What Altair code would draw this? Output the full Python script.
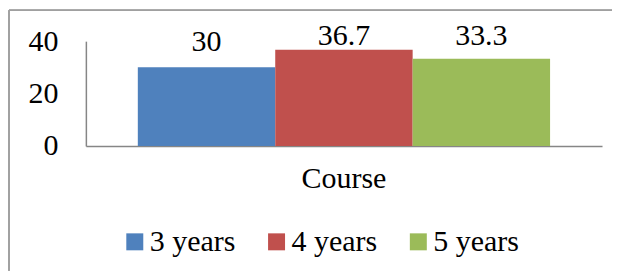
import altair as alt
import pandas as pd

category = ["Course", "Course", "Course"]
series = ["3 years", "4 years", "5 years"]
values = [30, 36.7, 33.3]
colors = ["#4F81BD", "#C0504D", "#9BBB59"]
y_ticks = [0, 20, 40]

df = pd.DataFrame({"category": category, "series": series, "value": values})

FONT = "Liberation Serif"
FS = 30

base = alt.Chart(df).encode(
    x=alt.X("category:N", title=None,
            scale=alt.Scale(paddingInner=0, paddingOuter=0.126),
            axis=alt.Axis(labelAngle=0, ticks=False, labelPadding=18,
                          domainColor="#868686", domainWidth=1.5,
                          labelFont=FONT, labelFontSize=FS, labelColor="black")),
    xOffset=alt.XOffset("series:N", scale=alt.Scale(paddingInner=0, paddingOuter=0)),
)

bars = base.mark_bar().encode(
    y=alt.Y("value:Q", title=None,
            scale=alt.Scale(domain=[0, 40]),
            axis=alt.Axis(values=y_ticks, ticks=False, grid=False, labelPadding=28,
                          domainColor="#868686", domainWidth=1.5,
                          labelFont=FONT, labelFontSize=FS, labelColor="black")),
    color=alt.Color("series:N", title=None,
                    scale=alt.Scale(domain=series, range=colors),
                    legend=alt.Legend(orient="none", legendX=34, legendY=186,
                                      direction="horizontal", symbolType="square",
                                      symbolSize=289, symbolStrokeWidth=0,
                                      labelFont=FONT, labelFontSize=FS, labelColor="black",
                                      labelOffset=0, columnPadding=26)),
)

labels = base.mark_text(font=FONT, fontSize=FS, color="black", baseline="alphabetic").transform_calculate(
    label_y="min(datum.value + 6.35, 38.5)"
).encode(
    y=alt.Y("label_y:Q"),
    text=alt.Text("value:Q", format="~g"),
)

border_top = alt.Chart(df).mark_rule(stroke="#A0A0A0", strokeWidth=1.5).encode(
    x=alt.value(-77), x2=alt.value(527), y=alt.value(-31)
)
border_left = alt.Chart(df).mark_rule(stroke="#A0A0A0", strokeWidth=1.5).encode(
    x=alt.value(-77), y=alt.value(-31), y2=alt.value(230)
)

chart = alt.layer(border_top, border_left, bars, labels).properties(
    width=517, height=105,
    background="white",
    padding={"left": 0, "top": 1, "right": 0, "bottom": 0},
).configure_view(strokeWidth=0)

chart.save("out.html", embed_options={"renderer": "svg", "actions": False})
